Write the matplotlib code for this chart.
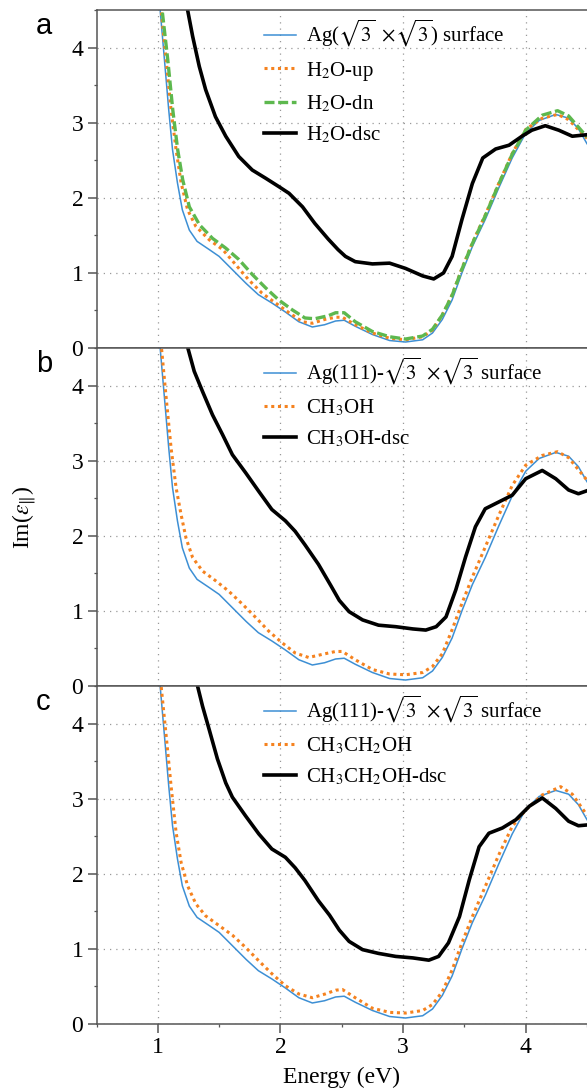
import numpy as np
from matplotlib import pyplot as plt
from matplotlib.ticker import MultipleLocator

plt.rcParams['font.family'] = ['Liberation Serif', 'DejaVu Serif']
plt.rcParams['mathtext.fontset'] = 'stix'

# shared bare surface curve (same in all three panels)
e_ag = [1.00, 1.019, 1.054, 1.089, 1.12, 1.16, 1.20, 1.257, 1.32, 1.42, 1.50, 1.61, 1.72, 1.82,
        1.93, 2.04, 2.15, 2.26, 2.36, 2.45, 2.52, 2.61, 2.75, 2.89, 3.02, 3.16, 3.24, 3.32, 3.40,
        3.48, 3.565, 3.67, 3.78, 3.89, 4.0, 4.11, 4.245, 4.35, 4.43, 4.50]
im_ag = [5.2, 4.5, 3.84, 3.17, 2.64, 2.2, 1.84, 1.57, 1.42, 1.31, 1.22, 1.04, 0.86, 0.71,
         0.60, 0.48, 0.35, 0.28, 0.31, 0.36, 0.37, 0.29, 0.18, 0.10, 0.08, 0.11, 0.20, 0.38, 0.64,
         1.0, 1.35, 1.71, 2.13, 2.53, 2.86, 3.03, 3.11, 3.06, 2.92, 2.72]

# panel a: water
e_h2o_up = [1.00, 1.027, 1.068, 1.108, 1.149, 1.19, 1.243, 1.31, 1.42, 1.53, 1.635, 1.74, 1.85,
            1.96, 2.07, 2.18, 2.26, 2.36, 2.45, 2.505, 2.61, 2.75, 2.89, 3.02, 3.16, 3.24, 3.32,
            3.40, 3.48, 3.565, 3.67, 3.78, 3.89, 4.0, 4.135, 4.26, 4.35, 4.50]
im_h2o_up = [5.2, 4.5, 3.84, 3.17, 2.64, 2.2, 1.84, 1.62, 1.44, 1.31, 1.11, 0.91, 0.73,
             0.60, 0.47, 0.35, 0.33, 0.38, 0.41, 0.41, 0.31, 0.20, 0.13, 0.11, 0.15, 0.24, 0.44,
             0.71, 1.06, 1.40, 1.77, 2.19, 2.59, 2.91, 3.06, 3.11, 3.04, 2.79]

e_h2o_dn = [1.00, 1.035, 1.081, 1.122, 1.162, 1.203, 1.257, 1.34, 1.446, 1.554, 1.66, 1.77, 1.88,
            1.986, 2.095, 2.20, 2.28, 2.39, 2.45, 2.52, 2.61, 2.75, 2.89, 3.02, 3.16, 3.24, 3.32,
            3.40, 3.48, 3.565, 3.67, 3.78, 3.89, 4.0, 4.135, 4.26, 4.35, 4.50]
im_h2o_dn = [5.3, 4.5, 3.84, 3.17, 2.64, 2.24, 1.88, 1.64, 1.46, 1.33, 1.18, 0.98, 0.80,
             0.64, 0.51, 0.40, 0.39, 0.43, 0.47, 0.47, 0.35, 0.22, 0.15, 0.12, 0.16, 0.25, 0.44,
             0.70, 1.05, 1.39, 1.76, 2.18, 2.58, 2.90, 3.10, 3.16, 3.09, 2.81]

e_h2o_dsc = [1.20, 1.243, 1.284, 1.338, 1.39, 1.47, 1.554, 1.66, 1.77, 1.88, 1.986, 2.07, 2.18,
             2.28, 2.39, 2.47, 2.53, 2.61, 2.75, 2.89, 3.02, 3.16, 3.25, 3.33, 3.40, 3.48, 3.565,
             3.65, 3.755, 3.864, 3.97, 4.05, 4.16, 4.27, 4.38, 4.50]
im_h2o_dsc = [5.0, 4.5, 4.15, 3.75, 3.44, 3.08, 2.82, 2.55, 2.37, 2.26, 2.15, 2.06, 1.88,
              1.66, 1.45, 1.31, 1.22, 1.15, 1.12, 1.13, 1.06, 0.96, 0.92, 1.0, 1.22, 1.71, 2.19,
              2.53, 2.65, 2.70, 2.82, 2.90, 2.96, 2.90, 2.82, 2.84]

# panel b: methanol
e_meoh = [1.00, 1.03, 1.068, 1.108, 1.149, 1.19, 1.23, 1.284, 1.365, 1.473, 1.58, 1.69, 1.80,
          1.905, 2.01, 2.12, 2.23, 2.365, 2.45, 2.505, 2.61, 2.75, 2.89, 3.02, 3.16, 3.24, 3.32,
          3.40, 3.48, 3.565, 3.67, 3.78, 3.89, 4.0, 4.135, 4.26, 4.35, 4.50]
im_meoh = [5.2, 4.5, 3.84, 3.17, 2.64, 2.28, 1.97, 1.71, 1.53, 1.40, 1.26, 1.09, 0.91,
           0.73, 0.58, 0.44, 0.38, 0.43, 0.46, 0.46, 0.35, 0.22, 0.16, 0.15, 0.18, 0.26, 0.43,
           0.75, 1.10, 1.45, 1.85, 2.27, 2.67, 2.94, 3.07, 3.12, 3.04, 2.74]

e_meoh_dsc = [1.20, 1.245, 1.297, 1.365, 1.446, 1.527, 1.608, 1.716, 1.824, 1.93, 2.04, 2.12, 2.20,
              2.31, 2.41, 2.48, 2.56, 2.67, 2.80, 2.94, 3.08, 3.185, 3.27, 3.35, 3.43, 3.51, 3.59,
              3.67, 3.78, 3.89, 4.0, 4.135, 4.245, 4.35, 4.43, 4.50]
im_meoh_dsc = [5.0, 4.5, 4.19, 3.92, 3.61, 3.35, 3.08, 2.84, 2.59, 2.35, 2.20, 2.06, 1.88,
               1.62, 1.34, 1.14, 0.99, 0.88, 0.81, 0.79, 0.76, 0.745, 0.79, 0.92, 1.28, 1.72, 2.12,
               2.36, 2.45, 2.54, 2.76, 2.87, 2.76, 2.61, 2.56, 2.60]

# panel c: ethanol
e_etoh = [1.00, 1.027, 1.068, 1.108, 1.149, 1.19, 1.243, 1.31, 1.39, 1.50, 1.61, 1.716, 1.824,
          1.93, 2.04, 2.15, 2.26, 2.365, 2.45, 2.505, 2.61, 2.75, 2.89, 3.02, 3.16, 3.24, 3.32,
          3.40, 3.48, 3.565, 3.67, 3.78, 3.89, 4.0, 4.135, 4.285, 4.38, 4.50]
im_etoh = [5.2, 4.5, 3.84, 3.17, 2.55, 2.15, 1.84, 1.60, 1.44, 1.31, 1.18, 1.02, 0.84,
           0.67, 0.51, 0.40, 0.35, 0.40, 0.45, 0.46, 0.35, 0.21, 0.155, 0.146, 0.18, 0.26, 0.43,
           0.72, 1.08, 1.43, 1.83, 2.25, 2.63, 2.85, 3.05, 3.16, 3.06, 2.78]

e_etoh_dsc = [1.28, 1.324, 1.365, 1.419, 1.486, 1.554, 1.608, 1.716, 1.824, 1.93, 2.04, 2.12, 2.20,
              2.31, 2.40, 2.48, 2.56, 2.67, 2.80, 2.94, 3.08, 3.21, 3.29, 3.37, 3.46, 3.54, 3.62,
              3.70, 3.81, 3.92, 4.03, 4.135, 4.245, 4.35, 4.43, 4.50]
im_etoh_dsc = [5.0, 4.5, 4.23, 3.92, 3.53, 3.21, 3.02, 2.77, 2.53, 2.33, 2.22, 2.08, 1.91,
               1.64, 1.45, 1.25, 1.10, 0.99, 0.94, 0.90, 0.88, 0.85, 0.90, 1.08, 1.43, 1.92, 2.36,
               2.54, 2.61, 2.72, 2.90, 3.01, 2.87, 2.70, 2.64, 2.65]

BLUE = '#3d8fd4'
ORANGE = '#f5821f'
GREEN = '#5db84e'

ag_a = r'Ag($\sqrt{3}\ \times\!\sqrt{3}$) surface'
ag_bc = r'Ag(111)-$\sqrt{3}\ \times\!\sqrt{3}$ surface'

fig, axes = plt.subplots(3, 1, figsize=(5.87, 10.91), dpi=100, sharex=True)
fig.subplots_adjust(left=0.1644, right=1.0, top=0.9908, bottom=0.0614, hspace=0)

DOT = (0, (1, 1.2))

ax = axes[0]
ax.plot(e_ag, im_ag, color=BLUE, lw=1.1, label=ag_a)
ax.plot(e_h2o_up, im_h2o_up, color=ORANGE, lw=2.2, ls=DOT, label='H$_2$O-up')
ax.plot(e_h2o_dn, im_h2o_dn, color=GREEN, lw=2.4, dashes=(3, 1.1), label='H$_2$O-dn')
ax.plot(e_h2o_dsc, im_h2o_dsc, color='black', lw=2.6, label='H$_2$O-dsc')

ax = axes[1]
ax.plot(e_ag, im_ag, color=BLUE, lw=1.1, label=ag_bc)
ax.plot(e_meoh, im_meoh, color=ORANGE, lw=2.2, ls=DOT, label='CH$_3$OH')
ax.plot(e_meoh_dsc, im_meoh_dsc, color='black', lw=2.6, label='CH$_3$OH-dsc')

ax = axes[2]
ax.plot(e_ag, im_ag, color=BLUE, lw=1.1, label=ag_bc)
ax.plot(e_etoh, im_etoh, color=ORANGE, lw=2.2, ls=DOT, label='CH$_3$CH$_2$OH')
ax.plot(e_etoh_dsc, im_etoh_dsc, color='black', lw=2.6, label='CH$_3$CH$_2$OH-dsc')

for ax, letter in zip(axes, ['a', 'b', 'c']):
    ax.set_xlim(0.5, 4.5)
    ax.set_ylim(0, 4.5)
    ax.yaxis.set_major_locator(MultipleLocator(1))
    ax.yaxis.set_minor_locator(MultipleLocator(0.5))
    ax.xaxis.set_major_locator(MultipleLocator(1))
    ax.xaxis.set_minor_locator(MultipleLocator(0.5))
    ax.grid(True, which='major', ls=(0, (1, 4)), color='#999999', lw=0.9)
    ax.tick_params(which='major', direction='out', length=6.5, width=1.1, color='#555555',
                   labelsize=17, pad=3)
    ax.tick_params(which='minor', direction='out', length=2.5, width=0.9, color='#555555')
    ax.spines['right'].set_visible(False)
    for s in ['left', 'top', 'bottom']:
        ax.spines[s].set_color('#555555')
        ax.spines[s].set_linewidth(1.1)
    ax.legend(loc='upper left', bbox_to_anchor=(0.341, 0.976), frameon=False, fontsize=15,
              handlelength=1.55, handletextpad=0.5, labelspacing=0.5, borderaxespad=0,
              borderpad=0)
    ax.text(-0.123, 0.929, letter, transform=ax.transAxes, fontsize=21,
            family='Liberation Sans', va='baseline', ha='left')

for ax in axes[:2]:
    ax.tick_params(axis='x', which='both', length=0, labelbottom=False)

axes[1].set_ylabel(r'Im($\varepsilon_{\|}$)', fontsize=17, labelpad=24)
axes[2].set_xlabel('Energy (eV)', fontsize=17, labelpad=6)

plt.savefig('out.png', dpi=100)
